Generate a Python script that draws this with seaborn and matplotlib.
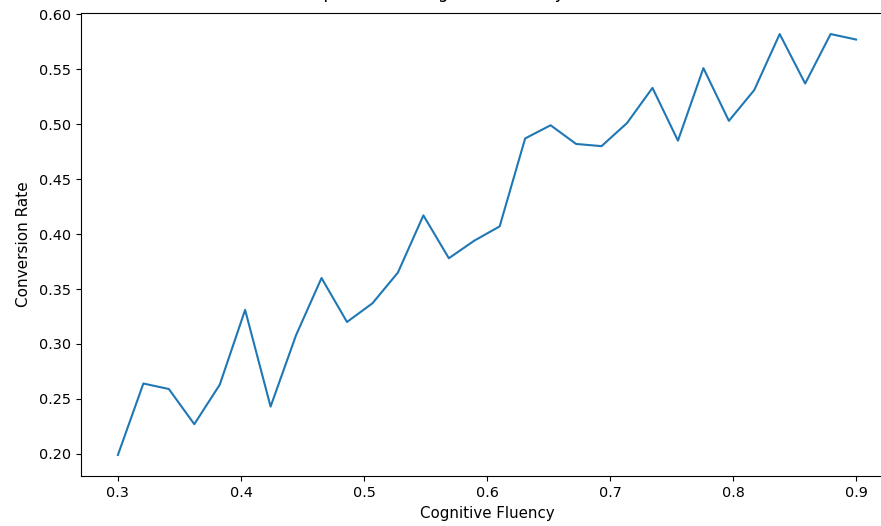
import matplotlib
matplotlib.use("Agg")
import matplotlib.pyplot as plt
import seaborn as sns
import pandas as pd

cognitive_fluency = [0.3000, 0.3207, 0.3414, 0.3621, 0.3828, 0.4034, 0.4241, 0.4448,
                     0.4655, 0.4862, 0.5069, 0.5276, 0.5483, 0.5690, 0.5897, 0.6103,
                     0.6310, 0.6517, 0.6724, 0.6931, 0.7138, 0.7345, 0.7552, 0.7759,
                     0.7966, 0.8172, 0.8379, 0.8586, 0.8793, 0.9000]
conversion_rate = [0.199, 0.264, 0.259, 0.227, 0.263, 0.331, 0.243, 0.308,
                   0.360, 0.320, 0.337, 0.365, 0.417, 0.378, 0.394, 0.407,
                   0.487, 0.499, 0.482, 0.480, 0.501, 0.533, 0.485, 0.551,
                   0.503, 0.531, 0.582, 0.537, 0.582, 0.577]

title = "Relationship between Cognitive Fluency and Conversion Rate"
x_label = "Cognitive Fluency"
y_label = "Conversion Rate"

df = pd.DataFrame({x_label: cognitive_fluency, y_label: conversion_rate})

W, H = 881, 526
fig = plt.figure(figsize=(W / 100, H / 100), dpi=100)
left, right, top, bottom = 81, 893, 13, 476
ax = fig.add_axes([left / W, (H - bottom) / H, (right - left) / W, (bottom - top) / H])

sns.lineplot(data=df, x=x_label, y=y_label, ax=ax, color="#1f77b4", linewidth=1.5)
ax.set_title(title, fontsize=12, pad=10.5)
ax.set_xlabel(x_label, fontsize=10.8, labelpad=4.5)
ax.set_ylabel(y_label, fontsize=11, labelpad=6)
ax.tick_params(labelsize=10.4)

fig.savefig("out.png", dpi=100)
